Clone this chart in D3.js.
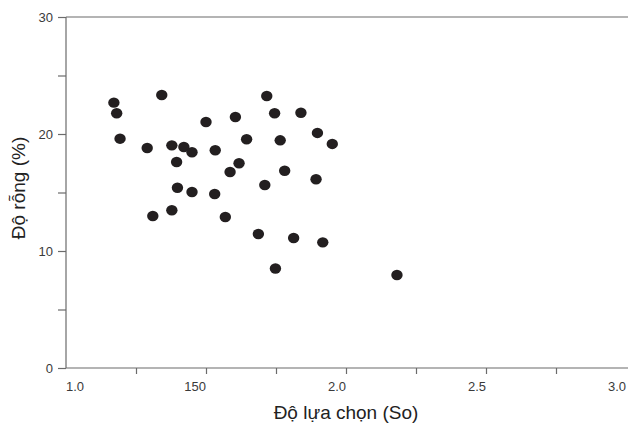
<!DOCTYPE html>
<html>
<head>
<meta charset="utf-8">
<script src="https://cdn.jsdelivr.net/npm/d3@7"></script>
<style>
  html, body { margin: 0; padding: 0; background: #fff; }
  svg { display: block; font-family: "Liberation Sans", Arial, sans-serif; }
</style>
</head>
<body>
<svg id="chart" width="628" height="428"></svg>
<script>
// Sorting coefficient (So) against porosity (%) for each sample
const sortingSo = [
  1.171, 1.181, 1.193, 1.342, 1.290, 1.378, 1.421, 1.450, 1.395, 1.500,
  1.605, 1.533, 1.645, 1.618, 1.586, 1.398, 1.450, 1.531, 1.310, 1.378,
  1.569, 1.687, 1.717, 1.745, 1.839, 1.765, 1.898, 1.951, 1.781, 1.893,
  1.710, 1.813, 1.917, 1.748, 2.182
];
const porosity = [
  22.68, 21.77, 19.60, 23.33, 18.80, 19.03, 18.89, 18.44, 17.61, 21.03,
  21.45, 18.61, 19.55, 17.50, 16.75, 15.41, 15.04, 14.87, 12.99, 13.48,
  12.91, 11.45, 23.25, 21.77, 21.82, 19.46, 20.09, 19.15, 16.86, 16.13,
  15.64, 11.11, 10.74, 8.50, 7.95
];

const xTickValues = [1.25, 1.5, 1.75, 2.0, 2.25, 2.5, 2.75];
const xLabelValues = [1.0, 1.5, 2.0, 2.5, 3.0];
const xLabelTexts = ["1.0", "150", "2.0", "2.5", "3.0"];
const yTickValues = [0, 5, 10, 15, 20, 25, 30];
const yLabelValues = [0, 10, 20, 30];

const xTitle = "Độ lựa chọn (So)";
const yTitle = "Độ rỗng (%)";

const svg = d3.select("#chart");
const axisColor = "#6b6b6b";
const textColor = "#3a3a3a";

const x = d3.scaleLinear().domain([1.0, 3.0]).range([66, 626]);
const y = d3.scaleLinear().domain([0, 30]).range([368, 17]);

// Left axis: ticks point outward, the 0 and 30 ticks run across the plot
const yAxis = d3.axisLeft(y).tickValues(yTickValues).tickSize(8).tickFormat("");
const gy = svg.append("g").attr("transform", `translate(${x(1.0)},0)`).call(yAxis);
gy.select(".domain").remove();
gy.selectAll(".tick line").attr("stroke", axisColor).attr("stroke-width", 1.2);

svg.append("line")
  .attr("x1", x(1.0)).attr("x2", x(1.0))
  .attr("y1", y(30)).attr("y2", y(0))
  .attr("stroke", axisColor).attr("stroke-width", 1.2);

// horizontal rules at 0 and 30
[0, 30].forEach(v => {
  svg.append("line")
    .attr("x1", x(1.0)).attr("x2", 628)
    .attr("y1", y(v)).attr("y2", y(v))
    .attr("stroke", axisColor).attr("stroke-width", 1.2);
});

// Bottom axis ticks hang below the baseline
const xAxis = d3.axisBottom(x).tickValues(xTickValues).tickSize(6).tickFormat("");
const gx = svg.append("g").attr("transform", `translate(0,${y(0)})`).call(xAxis);
gx.select(".domain").remove();
gx.selectAll(".tick line").attr("stroke", axisColor).attr("stroke-width", 1.2);

// X tick labels: first one starts at the axis, the rest end at their tick
svg.append("g").selectAll("text")
  .data(xLabelValues)
  .join("text")
  .attr("x", d => x(d))
  .attr("y", 391)
  .attr("text-anchor", (d, i) => i === 0 ? "start" : "end")
  .attr("font-size", 13)
  .attr("fill", textColor)
  .text((d, i) => xLabelTexts[i]);

// Y tick labels
svg.append("g").selectAll("text")
  .data(yLabelValues)
  .join("text")
  .attr("x", 53)
  .attr("y", d => y(d))
  .attr("dy", "0.35em")
  .attr("text-anchor", "end")
  .attr("font-size", 13)
  .attr("fill", textColor)
  .text(d => d);

// Axis titles
svg.append("text")
  .attr("x", 346)
  .attr("y", 419)
  .attr("text-anchor", "middle")
  .attr("font-size", 19)
  .attr("fill", "#222")
  .text(xTitle);

svg.append("text")
  .attr("transform", "translate(25,188) rotate(-90)")
  .attr("text-anchor", "middle")
  .attr("font-size", 19)
  .attr("fill", "#222")
  .text(yTitle);

// Sample points
svg.append("g").selectAll("ellipse")
  .data(sortingSo.map((s, i) => ({ s, p: porosity[i] })))
  .join("ellipse")
  .attr("cx", d => x(d.s))
  .attr("cy", d => y(d.p))
  .attr("rx", 5.7)
  .attr("ry", 5.2)
  .attr("fill", "#231f20");
</script>
</body>
</html>
